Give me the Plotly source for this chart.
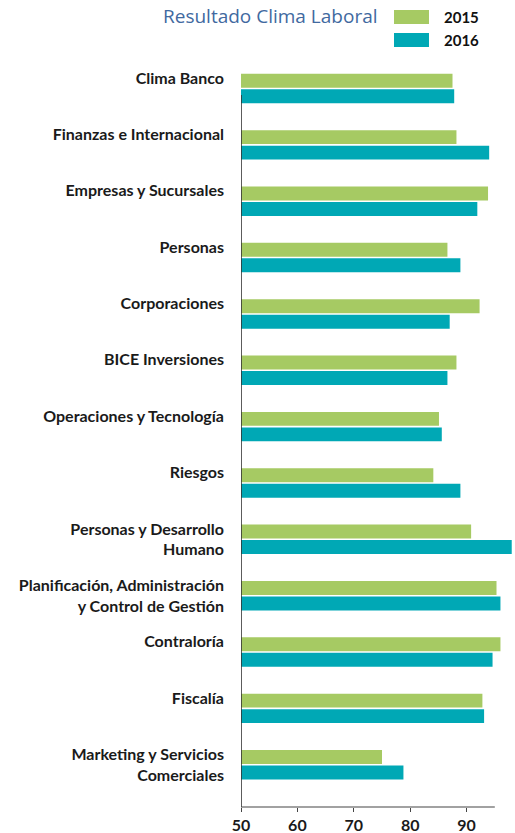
import plotly.graph_objects as go

categories = [
    "Clima Banco",
    "Finanzas e Internacional",
    "Empresas y Sucursales",
    "Personas",
    "Corporaciones",
    "BICE Inversiones",
    "Operaciones y Tecnología",
    "Riesgos",
    "Personas y Desarrollo<br>Humano",
    "Planificación, Administración<br>y Control de Gestión",
    "Contraloría",
    "Fiscalía",
    "Marketing y Servicios<br>Comerciales",
]
values_2015 = [87.5, 88.2, 93.8, 86.6, 92.3, 88.2, 85.1, 84.1, 90.8, 95.3, 96.0, 92.8, 75.0]
values_2016 = [87.8, 94.0, 91.9, 88.9, 87.0, 86.6, 85.6, 88.9, 98.0, 96.0, 94.6, 93.1, 78.8]
x_ticks = [50, 60, 70, 80, 90]

GREEN = "#a6ca63"
TEAL = "#00a8b5"
LABEL_FONT = "Lato"

pos = list(range(len(categories)))
# single-line labels sit on the upper line of a two-line slot, as in the original
tick_text = [c if "<br>" in c else c + "<br>&nbsp;" for c in categories]

fig = go.Figure()
fig.add_trace(go.Bar(y=pos, x=values_2015, base=0, orientation="h", name="2015",
                     marker=dict(color=GREEN, line=dict(width=0))))
fig.add_trace(go.Bar(y=pos, x=values_2016, base=0, orientation="h", name="2016",
                     marker=dict(color=TEAL, line=dict(width=0))))

fig.update_layout(
    width=515, height=833,
    margin=dict(l=241, r=0, t=60, b=26),
    paper_bgcolor="white", plot_bgcolor="white",
    barmode="group", bargap=0.45, bargroupgap=0.1,
    showlegend=False,
    xaxis=dict(range=[50, 98.58], tickvals=x_ticks, ticks="outside", ticklen=4,
               tickcolor="#444", tickwidth=1.2, showgrid=False, zeroline=False,
               showline=False,
               tickfont=dict(family=LABEL_FONT, size=16, color="#1a1a1a", weight="bold")),
    yaxis=dict(range=[12.75, -0.506], tickvals=pos, ticktext=tick_text,
               showgrid=False, zeroline=False, showline=False, ticks="",
               ticklabelstandoff=16,
               tickfont=dict(family=LABEL_FONT, size=16, color="#1a1a1a", weight="bold")),
)

# axis lines
fig.add_shape(type="line", xref="x", yref="y", x0=50, x1=50, y0=0.115, y1=12.75,
              line=dict(color="#333", width=1.6))
fig.add_shape(type="line", xref="x", yref="paper", x0=50, x1=95, y0=0, y1=0,
              line=dict(color="#444", width=1.2))

# title
fig.add_annotation(xref="paper", yref="paper", x=0.507, y=1.0589, xanchor="right",
                   yanchor="middle", showarrow=False, text="Resultado Clima Laboral",
                   font=dict(family="Open Sans", size=19, color="#41699f"))

# legend
fig.add_shape(type="rect", xref="paper", yref="paper", x0=0.5584, x1=0.6861,
              y0=1.0482, y1=1.0669, fillcolor=GREEN, line=dict(width=0))
fig.add_shape(type="rect", xref="paper", yref="paper", x0=0.5584, x1=0.6861,
              y0=1.0174, y1=1.0361, fillcolor=TEAL, line=dict(width=0))
fig.add_annotation(xref="paper", yref="paper", x=0.7336, y=1.0582, xanchor="left",
                   yanchor="middle", showarrow=False, text="<b>2015</b>",
                   font=dict(family=LABEL_FONT, size=15, color="#111"))
fig.add_annotation(xref="paper", yref="paper", x=0.7336, y=1.0274, xanchor="left",
                   yanchor="middle", showarrow=False, text="<b>2016</b>",
                   font=dict(family=LABEL_FONT, size=15, color="#111"))

fig.write_html("out.html")
